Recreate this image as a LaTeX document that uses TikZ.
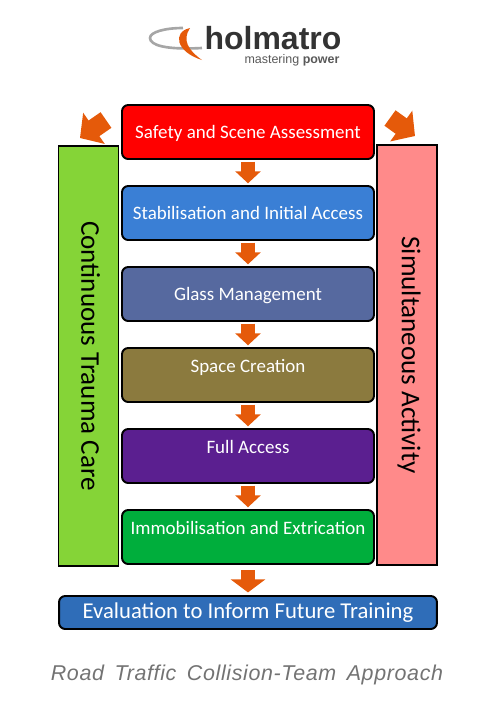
\documentclass[tikz,border=0pt]{standalone}
\usepackage{fontspec}
\setmainfont{Carlito}
\newfontfamily\logofont{Liberation Sans}
\newfontfamily\captionfont[WordSpace=1.6,LetterSpace=3]{Liberation Sans}
\usetikzlibrary{arrows.meta}
\definecolor{flowred}{HTML}{FF0000}
\definecolor{flowblue}{HTML}{3A7FD5}
\definecolor{flowslate}{HTML}{56699F}
\definecolor{flowolive}{HTML}{8B7A3E}
\definecolor{flowpurple}{HTML}{5B1F90}
\definecolor{flowgreen}{HTML}{00AE3C}
\definecolor{evalblue}{HTML}{2F6DB8}
\definecolor{barleft}{HTML}{85D437}
\definecolor{barright}{HTML}{FF8A8A}
\definecolor{blockorange}{HTML}{E55A0A}
\tikzset{
  stepbox/.style={draw=black, line width=1.1pt, rounded corners=3.5pt, text=white,
    minimum width=5.04cm, minimum height=1.08cm, inner sep=0pt, font=\fontsize{10.8}{13}\selectfont},
  sidebar/.style={draw=black, line width=1.1pt, inner sep=0pt, minimum width=1.2cm,
    minimum height=8.42cm, font=\fontsize{15.4}{18}\selectfont},
  blockarrow/.style={blockorange, line width=.28cm, shorten >=1pt, shorten <=1pt,
    -{Triangle[width=.5cm,length=.24cm]}},
}
\begin{document}
\begin{tikzpicture}[x=0.02cm, y=-0.02cm]
  \useasboundingbox (0,0) rectangle (500,708);
  % logo
  \draw[line width=1.5pt, gray!70] (202,48) .. controls (165,50) and (150,45) .. (150,38) .. controls (150,32) and (165,28) .. (183,28);
  \fill[blockorange] (190,28) .. controls (172,32) and (176,52) .. (202,60) .. controls (188,50) and (182,40) .. (190,28) -- cycle;
  \node[font=\logofont\bfseries\fontsize{18.2}{20}\selectfont, text=black!80, inner sep=0pt] (logoname) at (273,38) {holmatro};
  \node[font=\logofont\fontsize{7.1}{8}\selectfont, text=black!65, inner sep=0pt] (logotag) at (292,60) {mastering \textbf{power}};
  % steps
  \foreach \name/\ypos/\col/\lab/\th/\td in {
    step1/132/flowred/Safety and Scene Assessment/.38cm/.14cm,
    step2/213/flowblue/Stabilisation and Initial Access/.38cm/.14cm,
    step3/294/flowslate/Glass Management/.38cm/.14cm,
    step4/375/flowolive/Space Creation/.38cm/.5cm,
    step5/456/flowpurple/Full Access/.38cm/.5cm,
    step6/537/flowgreen/Immobilisation and Extrication/.38cm/.5cm}
    \node[stepbox, fill=\col, text height=\th, text depth=\td] (\name) at (248,\ypos) {\lab};
  % side bars
  \node[sidebar, fill=barleft] (traumabar) at (88.5,356) {\hspace{2.3pt}\rotatebox{-90}{Continuous Trauma Care}};
  \node[sidebar, fill=barright, minimum height=8.4cm] (activitybar) at (407,355) {\hspace{2.3pt}\rotatebox{-90}{Simultaneous Activity}};
  \node[stepbox, fill=evalblue, minimum width=7.56cm, minimum height=.66cm, text height=.3cm, text depth=.08cm, font=\fontsize{12.9}{16}\selectfont] (evalbox) at (248,612.5) {Evaluation to Inform Future Training};
  % arrows
  \foreach \a/\b in {step1/step2,step2/step3,step3/step4,step4/step5,step5/step6}
    \draw[blockarrow] (\a) -- (\b);
  \draw[blockarrow, -{Triangle[width=.68cm,length=.26cm]}, shorten <=3pt, shorten >=1.5pt] (step6) -- (evalbox);
  \coordinate (lefttail) at (106,120);
  \coordinate (lefttip) at (80,138);
  \coordinate (righttail) at (390,118);
  \coordinate (righttip) at (415,136);
  \draw[blockarrow, line width=.38cm, -{Triangle[width=.74cm,length=.34cm]}, shorten >=0pt, shorten <=0pt] (lefttail) -- (lefttip);
  \draw[blockarrow, line width=.38cm, -{Triangle[width=.74cm,length=.34cm]}, shorten >=0pt, shorten <=0pt] (righttail) -- (righttip);
  % caption
  \node[font=\captionfont\itshape\fontsize{12.2}{14}\selectfont, text=black!55, inner sep=0pt] (caption) at (247,675) {Road Traffic Collision-Team Approach};
\end{tikzpicture}
\end{document}
